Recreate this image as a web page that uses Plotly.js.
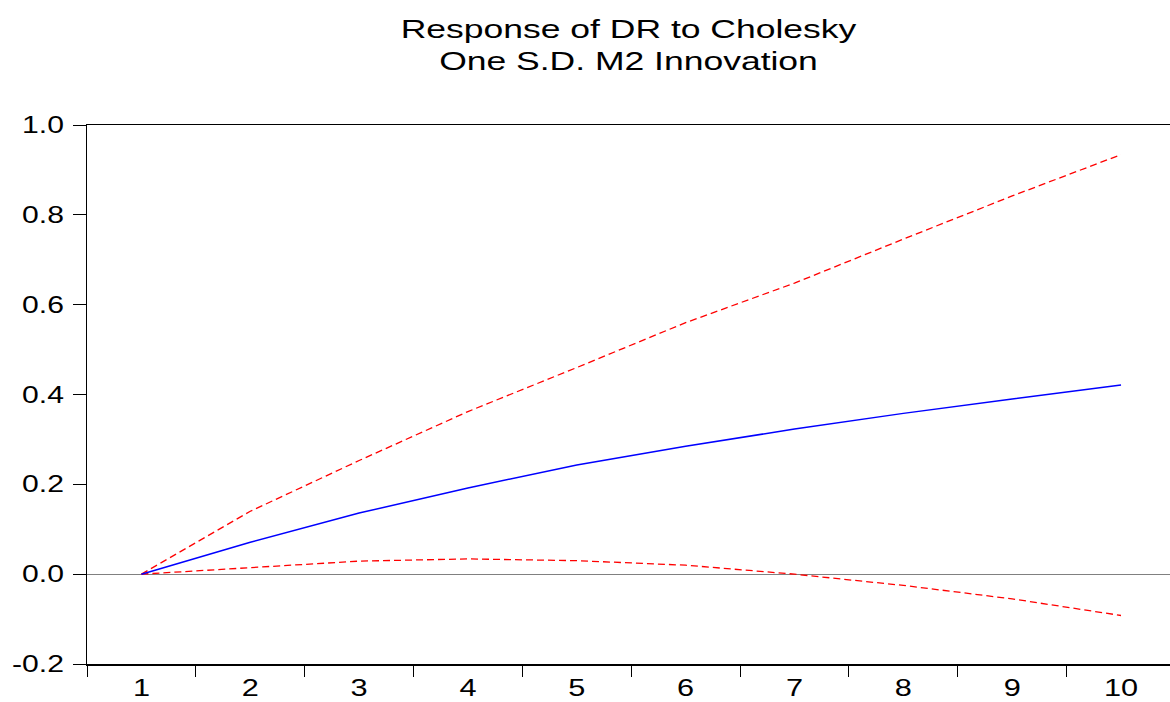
<!DOCTYPE html>
<html>
<head>
<meta charset="utf-8">
<script src="https://cdn.plot.ly/plotly-3.0.1.min.js"></script>
<style>
html,body{margin:0;padding:0;background:#fff;}
#chart{width:1170px;height:702px;}
</style>
</head>
<body>
<div id="chart"></div>
<script>
const periods = ["1","2","3","4","5","6","7","8","9","10"];
const response = [0.0, 0.071, 0.136, 0.192, 0.243, 0.285, 0.323, 0.358, 0.390, 0.421];
const upperBand = [0.0, 0.140, 0.253, 0.362, 0.460, 0.560, 0.648, 0.746, 0.842, 0.934];
const lowerBand = [0.0, 0.015, 0.029, 0.034, 0.030, 0.020, 0.000, -0.025, -0.055, -0.092];
const yTicks = [-0.2, 0.0, 0.2, 0.4, 0.6, 0.8, 1.0];
const yTickLabels = ["-0.2", "0.0", "0.2", "0.4", "0.6", "0.8", "1.0"];

const traces = [
  {x: periods, y: upperBand, type: 'scatter', mode: 'lines', line: {color: '#ff0000', width: 1.3, dash: '7px,4px'}, hoverinfo: 'skip'},
  {x: periods, y: lowerBand, type: 'scatter', mode: 'lines', line: {color: '#ff0000', width: 1.3, dash: '7px,4px'}, hoverinfo: 'skip'},
  {x: periods, y: response, type: 'scatter', mode: 'lines', line: {color: '#0000ff', width: 1.5}, hoverinfo: 'skip'}
];

const layout = {
  width: 1170, height: 702,
  margin: {l: 87, r: 0, t: 125, b: 38},
  paper_bgcolor: '#ffffff', plot_bgcolor: '#ffffff',
  showlegend: false,
  font: {family: 'Liberation Sans, Arial, sans-serif', color: '#000000', size: 20},
  title: {
    text: 'Response of DR to Cholesky<br>One S.D. M2 Innovation',
    font: {family: 'Liberation Sans, Arial, sans-serif', size: 25, color: '#000000'},
    x: 0.5, xref: 'paper', xanchor: 'center',
    y: 0.946, yref: 'container', yanchor: 'top'
  },
  xaxis: {
    type: 'category',
    range: [-0.5, 9.45],
    tickson: 'boundaries',
    ticks: 'outside', ticklen: 11, tickwidth: 1, tickcolor: '#000',
    showgrid: false, zeroline: false,
    showline: true, linecolor: '#000', linewidth: 1.5, mirror: true,
    tickfont: {size: 24},
    ticklabelstandoff: 2
  },
  yaxis: {
    range: [-0.2, 1.0],
    tickvals: yTicks,
    ticktext: yTickLabels,
    ticks: 'outside', ticklen: 13, tickwidth: 1, tickcolor: '#000',
    showgrid: false,
    zeroline: true, zerolinecolor: '#808080', zerolinewidth: 1,
    showline: true, linecolor: '#000', linewidth: 1.5,
    tickfont: {size: 23},
    ticklabelstandoff: 4
  }
};

// Widen text horizontally around its anchor point (reference text is horizontally stretched)
function stretchText(selector, sx) {
  document.querySelectorAll(selector).forEach(function (t) {
    const x = parseFloat(t.getAttribute('x')) || 0;
    const tr = t.getAttribute('transform') || '';
    t.setAttribute('transform', tr + ' translate(' + x + ',0) scale(' + sx + ',1) translate(' + (-x) + ',0)');
  });
}

Plotly.newPlot('chart', traces, layout, {displayModeBar: false, staticPlot: true}).then(function () {
  stretchText('#chart .gtitle', 1.42);
  stretchText('#chart .ytick text', 1.31);
  stretchText('#chart .xtick text', 1.28);
});
</script>
</body>
</html>
